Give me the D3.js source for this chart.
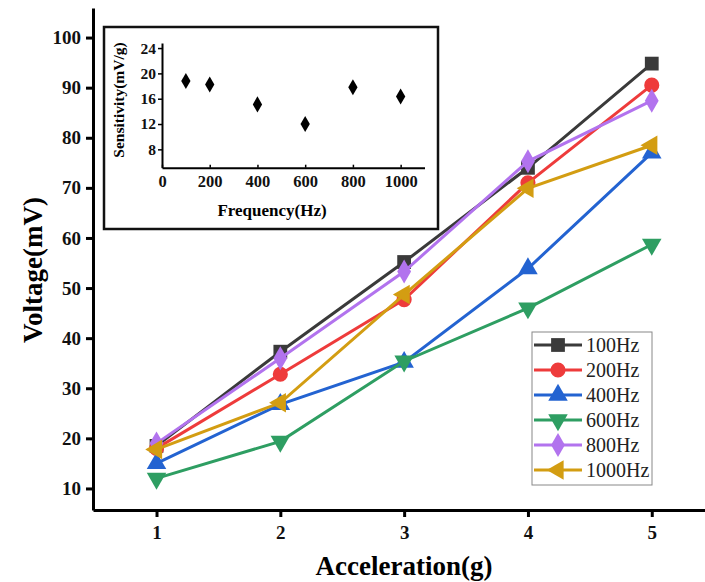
<!DOCTYPE html>
<html>
<head>
<meta charset="utf-8">
<script src="https://cdn.jsdelivr.net/npm/d3@7"></script>
<style>
  body { margin: 0; background: #fff; }
  svg, svg text { font-family: "Liberation Serif", "Times New Roman", serif; }
  .axis path, .axis line { stroke: #000; }
  .axis text { font-weight: bold; fill: #111; }
</style>
</head>
<body>
<svg id="canvas" width="705" height="582"></svg>
<script>
const accel = [1, 2, 3, 4, 5]
const freqs = ['100Hz', '200Hz', '400Hz', '600Hz', '800Hz', '1000Hz']
const v100 = [18.5, 37.3, 55.2, 74.0, 94.8]
const v200 = [18.0, 32.8, 47.7, 71.0, 90.5]
const v400 = [15.0, 26.8, 35.2, 53.9, 77.0]
const v600 = [12.0, 19.4, 35.4, 46.0, 58.7]
const v800 = [19.0, 36.0, 53.3, 75.3, 87.4]
const v1000 = [17.8, 27.1, 48.7, 69.9, 78.5]
const yTicks = [10, 20, 30, 40, 50, 60, 70, 80, 90, 100]

// inset: sensitivity vs frequency
const sensFreq = [100, 200, 400, 600, 800, 1000]
const sensVal = [18.8, 18.25, 15.1, 12.0, 17.8, 16.35]
const sensXTicks = [0, 200, 400, 600, 800, 1000]
const sensYTicks = [8, 12, 16, 20, 24]

const colors = ['#3a3a3a', '#ee3b3b', '#2363d1', '#2e9e62', '#b273ee', '#d39d12']
const shapes = [d3.symbolSquare, d3.symbolCircle, d3.symbolTriangle, d3.symbolTriangle, d3.symbolDiamond, d3.symbolTriangle]
const rotations = [0, 0, 0, 180, 0, -90]
const series = [v100, v200, v400, v600, v800, v1000].map((vals, i) => ({
    name: freqs[i], color: colors[i], shape: shapes[i], rot: rotations[i],
    values: vals.map((v, j) => ({ x: accel[j], y: v }))
}))
const markSize = s => s === d3.symbolSquare ? 190 : s === d3.symbolCircle ? 180 : 165

const svg = d3.select('#canvas')

const x = d3.scaleLinear().domain([0.487, 5.43]).range([93, 705])
const y = d3.scaleLinear().domain([5.7, 105.9]).range([510, 8])

// Axes
const xAxis = svg.append('g').classed('axis', true)
    .attr('transform', 'translate(0,510)')
    .call(d3.axisBottom(x).tickValues(accel).tickFormat(d3.format('d')).tickSize(7).tickSizeOuter(0).tickPadding(9))
xAxis.attr('font-family', null)
xAxis.select('.domain').attr('stroke-width', 3)
xAxis.selectAll('.tick line').attr('stroke-width', 3)
xAxis.selectAll('text').attr('font-size', 19)

const yAxis = svg.append('g').classed('axis', true)
    .attr('transform', 'translate(93,0)')
    .call(d3.axisLeft(y).tickValues(yTicks).tickSize(7).tickSizeOuter(0).tickPadding(5))
yAxis.attr('font-family', null)
yAxis.select('.domain').attr('stroke-width', 3)
yAxis.selectAll('.tick line').attr('stroke-width', 3)
yAxis.selectAll('text').attr('font-size', 19)

svg.append('text')
    .attr('x', 404).attr('y', 575)
    .attr('text-anchor', 'middle')
    .attr('font-size', 27).attr('font-weight', 'bold')
    .text('Acceleration(g)')

svg.append('text')
    .attr('transform', 'translate(42,270) rotate(-90)')
    .attr('text-anchor', 'middle')
    .attr('font-size', 27).attr('font-weight', 'bold')
    .text('Voltage(mV)')

// Lines and markers
const line = d3.line().x(d => x(d.x)).y(d => y(d.y))

const groups = svg.append('g').selectAll('g')
    .data(series)
    .enter().append('g')

groups.append('path')
    .attr('d', d => line(d.values))
    .attr('fill', 'none')
    .attr('stroke', d => d.color)
    .attr('stroke-width', 3)

groups.each(function(s) {
    d3.select(this).selectAll('path.mark')
        .data(s.values)
        .enter().append('path').classed('mark', true)
        .attr('d', d3.symbol().type(s.shape).size(markSize(s.shape)))
        .attr('transform', d => `translate(${x(d.x)},${y(d.y)}) rotate(${s.rot})`)
        .attr('fill', s.color)
})

// Legend
const legend = svg.append('g').attr('transform', 'translate(532,332)')
legend.append('rect')
    .attr('width', 120).attr('height', 153)
    .attr('fill', '#fff').attr('stroke', '#888').attr('stroke-width', 1)

const items = legend.selectAll('g.item')
    .data(series)
    .enter().append('g').classed('item', true)
    .attr('transform', (d, i) => `translate(0,${13 + i * 25})`)

items.append('line')
    .attr('x1', 2).attr('x2', 50)
    .attr('stroke', d => d.color).attr('stroke-width', 3)
items.append('path')
    .attr('d', d => d3.symbol().type(d.shape).size(markSize(d.shape))())
    .attr('transform', d => `translate(26,0) rotate(${d.rot})`)
    .attr('fill', d => d.color)
items.append('text')
    .attr('x', 54).attr('dy', '0.35em')
    .attr('font-size', 20).attr('fill', '#222')
    .text(d => d.name)

// Inset
const inset = svg.append('g')
inset.append('rect')
    .attr('x', 104).attr('y', 27).attr('width', 334).attr('height', 202)
    .attr('fill', '#fff').attr('stroke', '#111').attr('stroke-width', 2.5)

const ix = d3.scaleLinear().domain([0, 1100]).range([162, 424.5])
const iy = d3.scaleLinear().domain([5.1, 24.8]).range([167.7, 43])

const ixAxis = inset.append('g').classed('axis', true)
    .attr('transform', 'translate(0,167.7)')
    .call(d3.axisBottom(ix).tickValues(sensXTicks).tickFormat(d3.format('d')).tickSize(-3).tickSizeOuter(0).tickPadding(8))
ixAxis.attr('font-family', null)
ixAxis.select('.domain').attr('stroke-width', 2)
ixAxis.selectAll('.tick line').attr('stroke-width', 1.5)
ixAxis.selectAll('text').attr('font-size', 16.5)

const iyAxis = inset.append('g').classed('axis', true)
    .attr('transform', 'translate(162,0)')
    .call(d3.axisLeft(iy).tickValues(sensYTicks).tickSize(4).tickSizeOuter(0).tickPadding(2))
iyAxis.attr('font-family', null)
iyAxis.select('.domain').attr('stroke-width', 2)
iyAxis.selectAll('.tick line').attr('stroke-width', 1.5)
iyAxis.selectAll('text').attr('font-size', 15.5)

inset.append('text')
    .attr('x', 272).attr('y', 216)
    .attr('text-anchor', 'middle')
    .attr('font-size', 17).attr('font-weight', 'bold')
    .text('Frequency(Hz)')

inset.append('text')
    .attr('transform', 'translate(124,100) rotate(-90)')
    .attr('text-anchor', 'middle')
    .attr('font-size', 15.5).attr('font-weight', 'bold')
    .text('Sensitivity(mV/g)')

inset.selectAll('path.pt')
    .data(sensFreq.map((f, i) => ({ f, s: sensVal[i] })))
    .enter().append('path').classed('pt', true)
    .attr('d', d3.symbol().type(d3.symbolDiamond).size(75))
    .attr('transform', d => `translate(${ix(d.f)},${iy(d.s)})`)
    .attr('fill', '#000')
</script>
</body>
</html>
